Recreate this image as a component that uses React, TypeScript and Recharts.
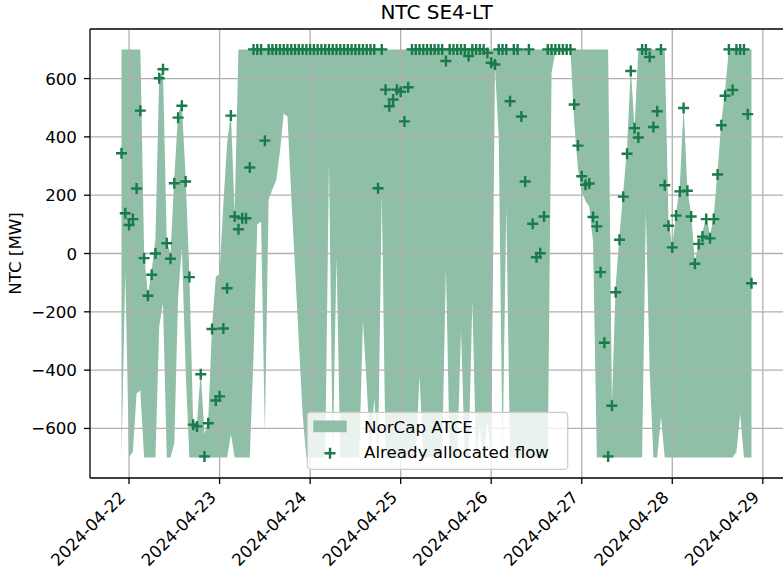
import { ComposedChart, Area, Scatter, XAxis, YAxis, ReferenceLine } from 'recharts';

// hourly MTUs, first one is 2024-04-22 00:00 CEST (22:00 UTC the day before)
const HOUR = 3600000;
const firstHour = Date.UTC(2024, 3, 21, 22);

// NorCap ATCE, upper edge of the band [MW]
const upper = [
  700, 700, 700, 700, 700, 700, 0, -140, -60, 50,
  610, 625, 40, 0, 260, 480, 510, 260, -75, -580,
  -580, -405, -620, -570, -250, -80, -70, 170, 380, 480,
  140,
  700, 700, 700, 700, 700, 700, 700, 700, 700, 700,
  700, 700, 700, 700, 700, 700, 700, 700, 700, 700,
  700, 700, 700, 700, 700, 700, 700, 700, 700, 700,
  700, 700, 700, 700, 700, 700, 700, 700, 700, 700,
  700, 700, 700, 700, 700, 700, 700, 700, 700, 700,
  700, 700, 700, 700, 700, 700, 700, 700, 700, 700,
  700, 700, 700, 700, 700, 700, 700, 700, 700, 700,
  700, 700, 700, 700, 700, 700, 700, 700, 700, 700,
  700, 700, 700, 700, 700, 700, 700, 700, 700, 700,
  700, 700, 700, 700, 700, 700, 700, 700, 700,
  -515, -110, 60, 210, 360, 635, 430,
  700, 700, 700, 700, 700, 700, 700, 700,
  110, 25, 140, 230, 505, 220, 135, -30, 40, 70,
  130, 60, 130, 280, 450, 560,
  700, 700, 700, 700, 700, 700, 700,
];

// NorCap ATCE, lower edge of the band [MW]
const lower = [
  -700, -60, -700, -680, -480, -470, -700, -700, -700, -700,
  -250, -170, -700, -700, -650, -150, 20, -400, -700,
  -700, -700, -700, -700, -700, -700, -700, -700, -700, -700,
  -620,
  -700, -700, -700, -700, -700,
  -350, 100, 110, -615, 184, 220, 250, 350, 480, 470,
  200, -50, -300, -550,
  -700, -700, -700, -700, -700, -700,
  310, -700, -10,
  -700, -700, -700, -700, -700, -700,
  -229, -450, -700, -495, -700, 207,
  -700, -700, -700, -700, -700, -700, -700, -700, -700,
  -420,
  -700, -700, -700, -700, -700, -700,
  -45, -700, -700, -700, -265, -700, -700, -165, -700, -590,
  -700, -570, -700, 640, 400, -700, 160,
  -700, -700, -700, -700, -700, -700, -700, -700, -700, -700, -700,
  620, 690, 690, 690, 690,
  700, 450, 290, 210, 180, 160, 40,
  -700, -700, -700, -700, -700, -700, -700, -700, -700, -700,
  -700, -700, -700,
  150, -400, -700, -700, -560,
  -700, -700, -700, -700, -700, -700, -700, -700, -700, -700,
  -700, -700, -700, -700, -700, -700, -700, -700, -700,
  -680, -550, -700, -700, -700,
];

// already allocated flow [MW]
const allocated = [
  344, 138, 98, 118, 223, 490, -16, -145, -73, 0,
  601, 632, 35, -18, 241, 466, 507, 247, -81, -587,
  -593, -414, -696, -582, -259, -504, -490, -257, -119, 473,
  127, 83, 121, 121, 295, 700, 700, 700, 387,
  700, 700, 700, 700, 700, 700, 700, 700, 700, 700,
  700, 700, 700, 700, 700, 700, 700, 700, 700, 700,
  700, 700, 700, 700, 700, 700, 700, 700, 700,
  224, 700, 562, 505, 528, 562, 555, 453, 570,
  700, 700, 700, 700, 700, 700, 700, 700, 700,
  660, 700, 700, 700, 700, 700, 677, 700, 700, 700, 700,
  688, 654, 648, 700, 700, 700,
  522, 700, 700, 470, 247, 700, 102, -13, 1, 127,
  700, 700, 700, 700, 700, 700, 700,
  511, 370, 265, 236, 240, 125, 93, -64, -306, -696,
  -522, -133, 47, 195, 342, 626, 430, 398, 700, 700,
  674, 434, 488, 700, 234, 95, 21, 130, 213, 499,
  215, 127, -35, 33, 58, 118, 52, 118, 271, 440,
  541, 700, 561, 700, 700, 700, 478, -102,
];

const dateTicks = ['2024-04-22', '2024-04-23', '2024-04-24', '2024-04-25', '2024-04-26', '2024-04-27', '2024-04-28', '2024-04-29'];
const ntcTicks = [-600, -400, -200, 0, 200, 400, 600];

const rows = allocated.map((v, i) => ({
  t: firstHour + i * HOUR,
  atce: [lower[i], upper[i]],
  flow: v,
}));

const tickTimes = dateTicks.map((d) => Date.parse(d + 'T00:00:00Z'));
const pad = (allocated.length - 1) * 0.05 * HOUR;
const xDomain = [firstHour - pad, firstHour + (allocated.length - 1) * HOUR + pad];

const FILL = '#8fbfa6';
const MARK = '#1a7b4a';
const GRID = '#b0b0b0';
const FONT = 'DejaVu Sans';

const W = 784;
const H = 574;
const LEFT = 90;
const TOP = 29;
const BOTTOM = 478;

function DateTick(props: any) {
  const { x, payload } = props;
  const label = new Date(payload.value).toISOString().slice(0, 10);
  const ex = x - 2.5;
  const ey = BOTTOM + 20.5;
  return (
    <text x={ex} y={ey} textAnchor="end" transform={`rotate(-45 ${ex} ${ey})`}
      fontSize={16.7} fontFamily={FONT} fill="#000">{label}</text>
  );
}

function NtcTick(props: any) {
  const { y, payload } = props;
  const v = payload.value;
  const label = v < 0 ? '\u2212' + Math.abs(v) : String(v);
  return (
    <text x={LEFT - 13} y={y + 6} textAnchor="end" fontSize={16.7} fontFamily={FONT} fill="#000">{label}</text>
  );
}

function Plus(props: any) {
  const { cx, cy } = props;
  if (cx == null || cy == null) return null;
  return <path d={`M${cx - 5.5},${cy}H${cx + 5.5}M${cx},${cy - 5.5}V${cy + 5.5}`} stroke={MARK} strokeWidth={2.4} fill="none" />;
}

export default function App() {
  return (
    <div style={{ position: 'absolute', left: 0, top: 0, width: 783, height: H, overflow: 'hidden', background: '#fff' }}>
      <ComposedChart width={W} height={H} data={rows} margin={{ top: TOP, right: 1, bottom: 0, left: 0 }}>
        <XAxis dataKey="t" type="number" domain={xDomain} ticks={tickTimes} allowDataOverflow
          height={H - BOTTOM} tick={<DateTick />} tickSize={6} axisLine={false}
          tickLine={{ stroke: '#000', strokeWidth: 1.3 }} interval={0} />
        <YAxis type="number" domain={[-770, 770]} ticks={ntcTicks} allowDataOverflow width={LEFT}
          tick={<NtcTick />} tickSize={6} axisLine={false}
          tickLine={{ stroke: '#000', strokeWidth: 1.3 }} interval={0} />
        <Area type="linear" dataKey="atce" stroke="none" fill={FILL} fillOpacity={1} isAnimationActive={false} />
        <Scatter data={rows} dataKey="flow" shape={Plus} isAnimationActive={false} />
        {tickTimes.map((t) => (
          <ReferenceLine key={'x' + t} x={t} stroke={GRID} strokeWidth={1.3} />
        ))}
        {ntcTicks.map((v) => (
          <ReferenceLine key={'y' + v} y={v} stroke={GRID} strokeWidth={1.3} />
        ))}
      </ComposedChart>
      <svg width={783} height={H} style={{ position: 'absolute', left: 0, top: 0, pointerEvents: 'none' }}>
        <line x1={LEFT} y1={TOP} x2={783} y2={TOP} stroke="#000" strokeWidth={1.3} />
        <line x1={LEFT} y1={BOTTOM} x2={783} y2={BOTTOM} stroke="#000" strokeWidth={1.3} />
        <line x1={LEFT} y1={TOP} x2={LEFT} y2={BOTTOM} stroke="#000" strokeWidth={1.3} />
        <text x={436.5} y={19.3} textAnchor="middle" fontSize={20} fontFamily={FONT} fill="#000">NTC SE4-LT</text>
        <text x={21} y={253.5} textAnchor="middle" transform="rotate(-90 21 253.5)" fontSize={16.7} fontFamily={FONT} fill="#000">NTC [MW]</text>
        <rect x={307.3} y={412.3} width={260.4} height={57} rx={3.5} fill="#fff" fillOpacity={0.8} stroke="#cccccc" strokeWidth={1.3} />
        <rect x={313.3} y={420.5} width={33.4} height={11.7} fill={FILL} />
        <text x={364} y={432.7} fontSize={16.7} fontFamily={FONT} fill="#000">NorCap ATCE</text>
        <path d="M324.5,453.3H335.5M330,447.8V458.8" stroke={MARK} strokeWidth={2.4} />
        <text x={364} y={458.3} fontSize={16.7} fontFamily={FONT} fill="#000">Already allocated flow</text>
      </svg>
    </div>
  );
}
